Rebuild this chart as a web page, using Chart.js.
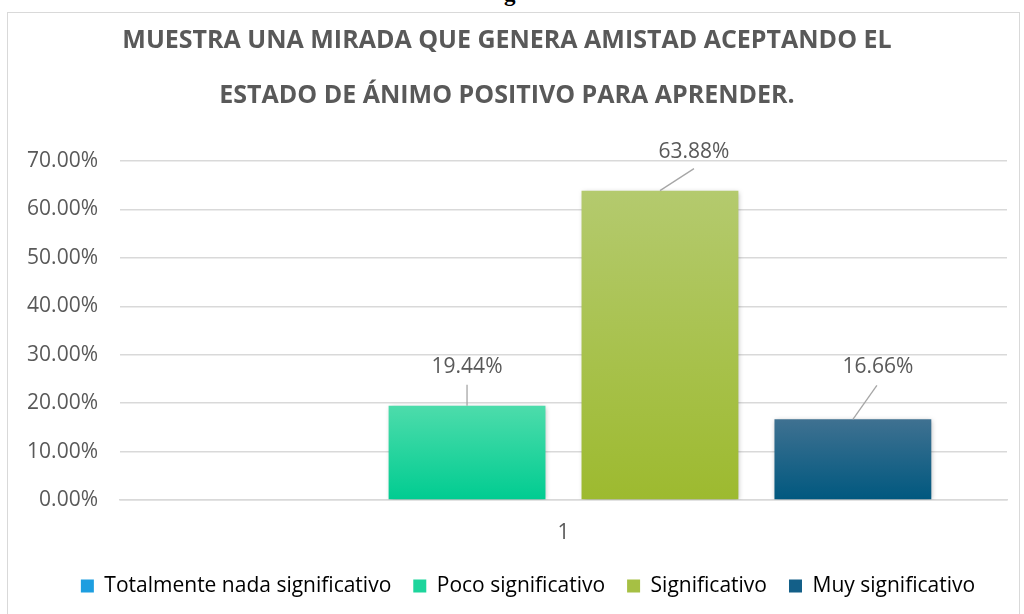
<!DOCTYPE html>
<html>
<head>
<meta charset="utf-8">
<script src="https://cdn.jsdelivr.net/npm/chart.js@4.4.1/dist/chart.umd.min.js"></script>
<style>
  html, body { margin: 0; padding: 0; background: #fff; overflow: hidden; }
  body { width: 1024px; height: 614px; position: relative; }
  #topText {
    position: absolute; left: 504px; top: -19px;
    font: bold 23px "Liberation Serif", serif; color: #000;
  }
  #frame {
    position: absolute; left: 7px; top: 12px; width: 1013px; height: 620px;
    border: 1.5px solid #d9d9d9; box-sizing: border-box;
  }
  #wrap { position: absolute; left: 7px; top: 13px; width: 1012px; height: 601px; }
</style>
</head>
<body>
<div id="topText">g</div>
<div id="frame"></div>
<div id="wrap"><canvas id="chart"></canvas></div>
<script>
// ---- data ----
const categories = ["1"];
const seriesNames = ["Totalmente nada significativo", "Poco significativo", "Significativo", "Muy significativo"];
const seriesValues = [0, 19.44, 63.88, 16.66];
const yTicks = [0, 10, 20, 30, 40, 50, 60, 70];

// gradient colours (top, bottom) and legend swatch colours
const barTop = ["#5cbcef", "#4ddcab", "#b4ca6e", "#3f7191"];
const barBottom = ["#0f95d8", "#00cc91", "#9dba2f", "#00587f"];
const legendColors = ["#1d9ee0", "#1dd59c", "#a6c044", "#135f88"];

// label offsets from bar top-centre: [label dx, label dy, line start dx, line start dy]
const labelOffsets = [null, [0, -39, 0, -21], [34, -39, 34, -22], [25, -52, 24, -34]];

const TEXT = "#595959";
const FONT = "'Open Sans', 'Liberation Sans', Arial, sans-serif";

function barGradient(i) {
  return (c) => {
    const chart = c.chart;
    const y = chart.scales && chart.scales.y;
    if (!chart.chartArea || !y) return barBottom[i];
    const top = y.getPixelForValue(seriesValues[i]);
    const base = y.getPixelForValue(0);
    if (base - top < 1) return barBottom[i];
    const g = chart.ctx.createLinearGradient(0, top, 0, base);
    g.addColorStop(0, barTop[i]);
    g.addColorStop(1, barBottom[i]);
    return g;
  };
}

// bar shadow
const shadowPlugin = {
  id: "barShadow",
  beforeDatasetsDraw(chart) {
    const ctx = chart.ctx;
    ctx.save();
    ctx.shadowColor = "rgba(0,0,0,0.28)";
    ctx.shadowBlur = 5;
    ctx.shadowOffsetX = 1;
    ctx.shadowOffsetY = 1;
  },
  afterDatasetsDraw(chart) {
    chart.ctx.restore();
  },
};

// legend sits a bit right of centre in the original
const legendShift = {
  id: "legendShift",
  afterLayout(chart) {
    if (chart.legend) chart.legend.left += 42;
  },
};

// data labels with leader lines
const labelPlugin = {
  id: "leaderLabels",
  afterDatasetsDraw(chart) {
    const ctx = chart.ctx;
    ctx.save();
    ctx.font = "21px " + FONT;
    ctx.fillStyle = TEXT;
    ctx.textAlign = "center";
    ctx.textBaseline = "middle";
    chart.data.datasets.forEach((ds, i) => {
      const off = labelOffsets[i];
      if (!off || !ds.data[0]) return;
      const bar = chart.getDatasetMeta(i).data[0];
      const x = bar.x, y = bar.y;
      ctx.strokeStyle = "#a6a6a6";
      ctx.lineWidth = 1.3;
      ctx.beginPath();
      ctx.moveTo(x + off[2], y + off[3]);
      ctx.lineTo(x, y);
      ctx.stroke();
      ctx.fillText(ds.data[0].toFixed(2) + "%", x + off[0], y + off[1]);
    });
    ctx.restore();
  },
};

new Chart(document.getElementById("chart"), {
  type: "bar",
  data: {
    labels: categories,
    datasets: seriesNames.map((name, i) => ({
      label: name,
      data: [seriesValues[i]],
      backgroundColor: barGradient(i),
      borderWidth: 0,
      categoryPercentage: 0.87,
      barPercentage: 0.813,
    })),
  },
  options: {
    responsive: true,
    maintainAspectRatio: false,
    animation: false,
    layout: { padding: { left: 0, right: 12, top: 0, bottom: 7.5 } },
    plugins: {
      title: {
        display: true,
        text: [
          "MUESTRA UNA MIRADA QUE GENERA AMISTAD ACEPTANDO EL",
          "ESTADO DE ÁNIMO POSITIVO PARA APRENDER.",
        ],
        color: TEXT,
        font: { family: FONT, size: 25, weight: "bold", lineHeight: 2.2 },
        padding: { top: 0, bottom: 38 },
      },
      legend: {
        position: "bottom",
        labels: {
          color: TEXT,
          font: { family: FONT, size: 21 },
          boxWidth: 13,
          boxHeight: 13,
          padding: 22,
          generateLabels: () =>
            seriesNames.map((name, i) => ({
              text: name,
              fillStyle: legendColors[i],
              strokeStyle: legendColors[i],
              lineWidth: 0,
              datasetIndex: i,
            })),
        },
      },
      tooltip: { enabled: false },
    },
    scales: {
      x: {
        grid: { display: false },
        border: { display: true, color: "#d9d9d9", width: 1.5 },
        ticks: { color: TEXT, font: { family: FONT, size: 21 }, padding: 12 },
        afterFit: (scale) => {
          scale.height = 53.5;
        },
      },
      y: {
        min: 0,
        max: 70,
        afterBuildTicks: (scale) => {
          scale.ticks = yTicks.map((v) => ({ value: v }));
        },
        afterFit: (scale) => {
          scale.width = 113;
        },
        grid: { color: "#d9d9d9", lineWidth: 1.5, drawTicks: false },
        border: { display: false },
        ticks: {
          color: TEXT,
          font: { family: FONT, size: 21 },
          padding: 22,
          callback: (v) => v.toFixed(2) + "%",
        },
      },
    },
  },
  plugins: [shadowPlugin, legendShift, labelPlugin],
});
</script>
</body>
</html>
